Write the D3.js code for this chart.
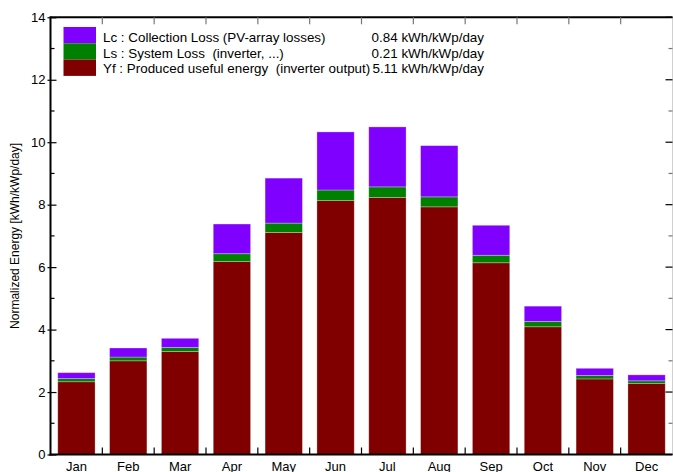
<!DOCTYPE html>
<html><head><meta charset="utf-8">
<script src="https://cdn.jsdelivr.net/npm/d3@7"></script>
<style>
html,body{margin:0;padding:0;background:#fff;}
svg{display:block;font-family:"Liberation Sans",Arial,sans-serif;}
</style></head>
<body>
<svg id="chart" width="673" height="472"></svg>
<script>
const months = ["Jan","Feb","Mar","Apr","May","Jun","Jul","Aug","Sep","Oct","Nov","Dec"];
const yf = [2.33,3.00,3.30,6.18,7.11,8.13,8.23,7.93,6.14,4.09,2.42,2.27];
const ls = [0.10,0.12,0.13,0.25,0.30,0.34,0.34,0.32,0.24,0.17,0.11,0.09];
const lc = [0.19,0.29,0.29,0.95,1.44,1.86,1.92,1.64,0.96,0.49,0.23,0.19];
const seriesKeys = ["yf","ls","lc"];
const seriesColors = {yf:"#800000", ls:"#008000", lc:"#8000ff"};
const legendKeys = ["lc","ls","yf"];
const legendLabels = ["Lc : Collection Loss (PV-array losses)","Ls : System Loss  (inverter, ...)","Yf : Produced useful energy  (inverter output)"];
const legendValues = ["0.84 kWh/kWp/day","0.21 kWh/kWp/day","5.11 kWh/kWp/day"];
const yMajor = [0,2,4,6,8,10,12,14];
const yMinor = [1,3,5,7,9,11,13];
const yTitle = "Normalized Energy [kWh/kWp/day]";

const svg = d3.select("#chart");
const L = 50.5, R = 672.5, T = 17.3, B = 454.5;

const x = d3.scaleBand().domain(months).range([L, R]).paddingInner(0.28).paddingOuter(0.14);
const y = d3.scaleLinear().domain([0,14]).range([B, T]);

const rows = months.map((m,i)=>({month:m, yf:yf[i], ls:ls[i], lc:lc[i]}));
const stack = d3.stack().keys(seriesKeys)(rows);

// bars
svg.append("g").selectAll("g").data(stack).join("g")
  .attr("fill", d=>seriesColors[d.key])
  .selectAll("rect").data(d=>d).join("rect")
  .attr("x", d=>x(d.data.month))
  .attr("width", x.bandwidth())
  .attr("y", d=>y(d[1]))
  .attr("height", d=>y(d[0])-y(d[1]))
  .attr("stroke","rgba(255,255,255,0.35)").attr("stroke-width",0.8);

// frame
const frame = svg.append("g");
frame.append("line").attr("x1",R).attr("x2",R).attr("y1",T).attr("y2",B).attr("stroke","#d0d0d0").attr("stroke-width",1);
frame.append("line").attr("x1",L).attr("x2",R).attr("y1",T).attr("y2",T).attr("stroke","#000").attr("stroke-width",2);

// band boundary ticks top & bottom
const bounds = d3.range(1, months.length).map(k => L + k*x.step());
frame.selectAll(".tt").data(bounds).join("line")
  .attr("x1",d=>d).attr("x2",d=>d).attr("y1",T).attr("y2",T+7)
  .attr("stroke","#777").attr("stroke-width",1.2);
frame.selectAll(".bt").data(bounds).join("line")
  .attr("x1",d=>d).attr("x2",d=>d).attr("y1",B).attr("y2",B-7)
  .attr("stroke","#000").attr("stroke-width",1.2);

// right ticks
frame.selectAll(".rM").data(yMajor).join("line")
  .attr("x1",R-7).attr("x2",R).attr("y1",d=>y(d)).attr("y2",d=>y(d)).attr("stroke","#000").attr("stroke-width",1.2);
frame.selectAll(".rm").data(yMinor).join("line")
  .attr("x1",R-4).attr("x2",R).attr("y1",d=>y(d)).attr("y2",d=>y(d)).attr("stroke","#777").attr("stroke-width",1.2);

// left axis
const yAxis = d3.axisLeft(y).tickValues(yMajor).tickFormat(d3.format("d")).tickSize(3).tickPadding(2);
const gy = svg.append("g").attr("transform",`translate(${L},0)`).call(yAxis);
gy.select(".domain").remove();
gy.selectAll(".tick line").attr("x2",-3).attr("x1",6).attr("stroke","#000").attr("stroke-width",1.2);
gy.selectAll(".tick text").attr("font-size",13).attr("fill","#000").attr("font-family","Liberation Sans, Arial, sans-serif");
svg.append("g").selectAll("line").data(yMinor).join("line")
  .attr("x1",L).attr("x2",L+4).attr("y1",d=>y(d)).attr("y2",d=>y(d)).attr("stroke","#000").attr("stroke-width",1.2);
svg.append("line").attr("x1",L).attr("x2",L).attr("y1",T-1).attr("y2",B+1).attr("stroke","#000").attr("stroke-width",2);

// bottom axis
const xAxis = d3.axisBottom(x).tickSize(0).tickPadding(7);
const gx = svg.append("g").attr("transform",`translate(0,${B})`).call(xAxis);
gx.select(".domain").remove();
gx.selectAll(".tick text").attr("font-size",13).attr("fill","#000").attr("font-family","Liberation Sans, Arial, sans-serif");
svg.append("line").attr("x1",L-1).attr("x2",R).attr("y1",B).attr("y2",B).attr("stroke","#000").attr("stroke-width",2);

// y title
svg.append("text").attr("transform",`translate(19,${(T+B)/2}) rotate(-90)`)
  .attr("text-anchor","middle").attr("font-size",12).attr("fill","#000").text(yTitle);

// legend
const lg = svg.append("g");
legendKeys.forEach((k,i)=>{
  lg.append("rect").attr("x",63.5).attr("y",27+i*16.3).attr("width",32.5).attr("height",16.3).attr("fill",seriesColors[k]);
  lg.append("text").attr("x",103).attr("y",42+i*15.5).attr("font-size",13.4).attr("fill","#000")
    .attr("xml:space","preserve").style("white-space","pre").text(legendLabels[i]);
  lg.append("text").attr("x",484).attr("y",42+i*15.5).attr("font-size",13.4).attr("text-anchor","end").attr("fill","#000").text(legendValues[i]);
});
</script>
</body></html>
